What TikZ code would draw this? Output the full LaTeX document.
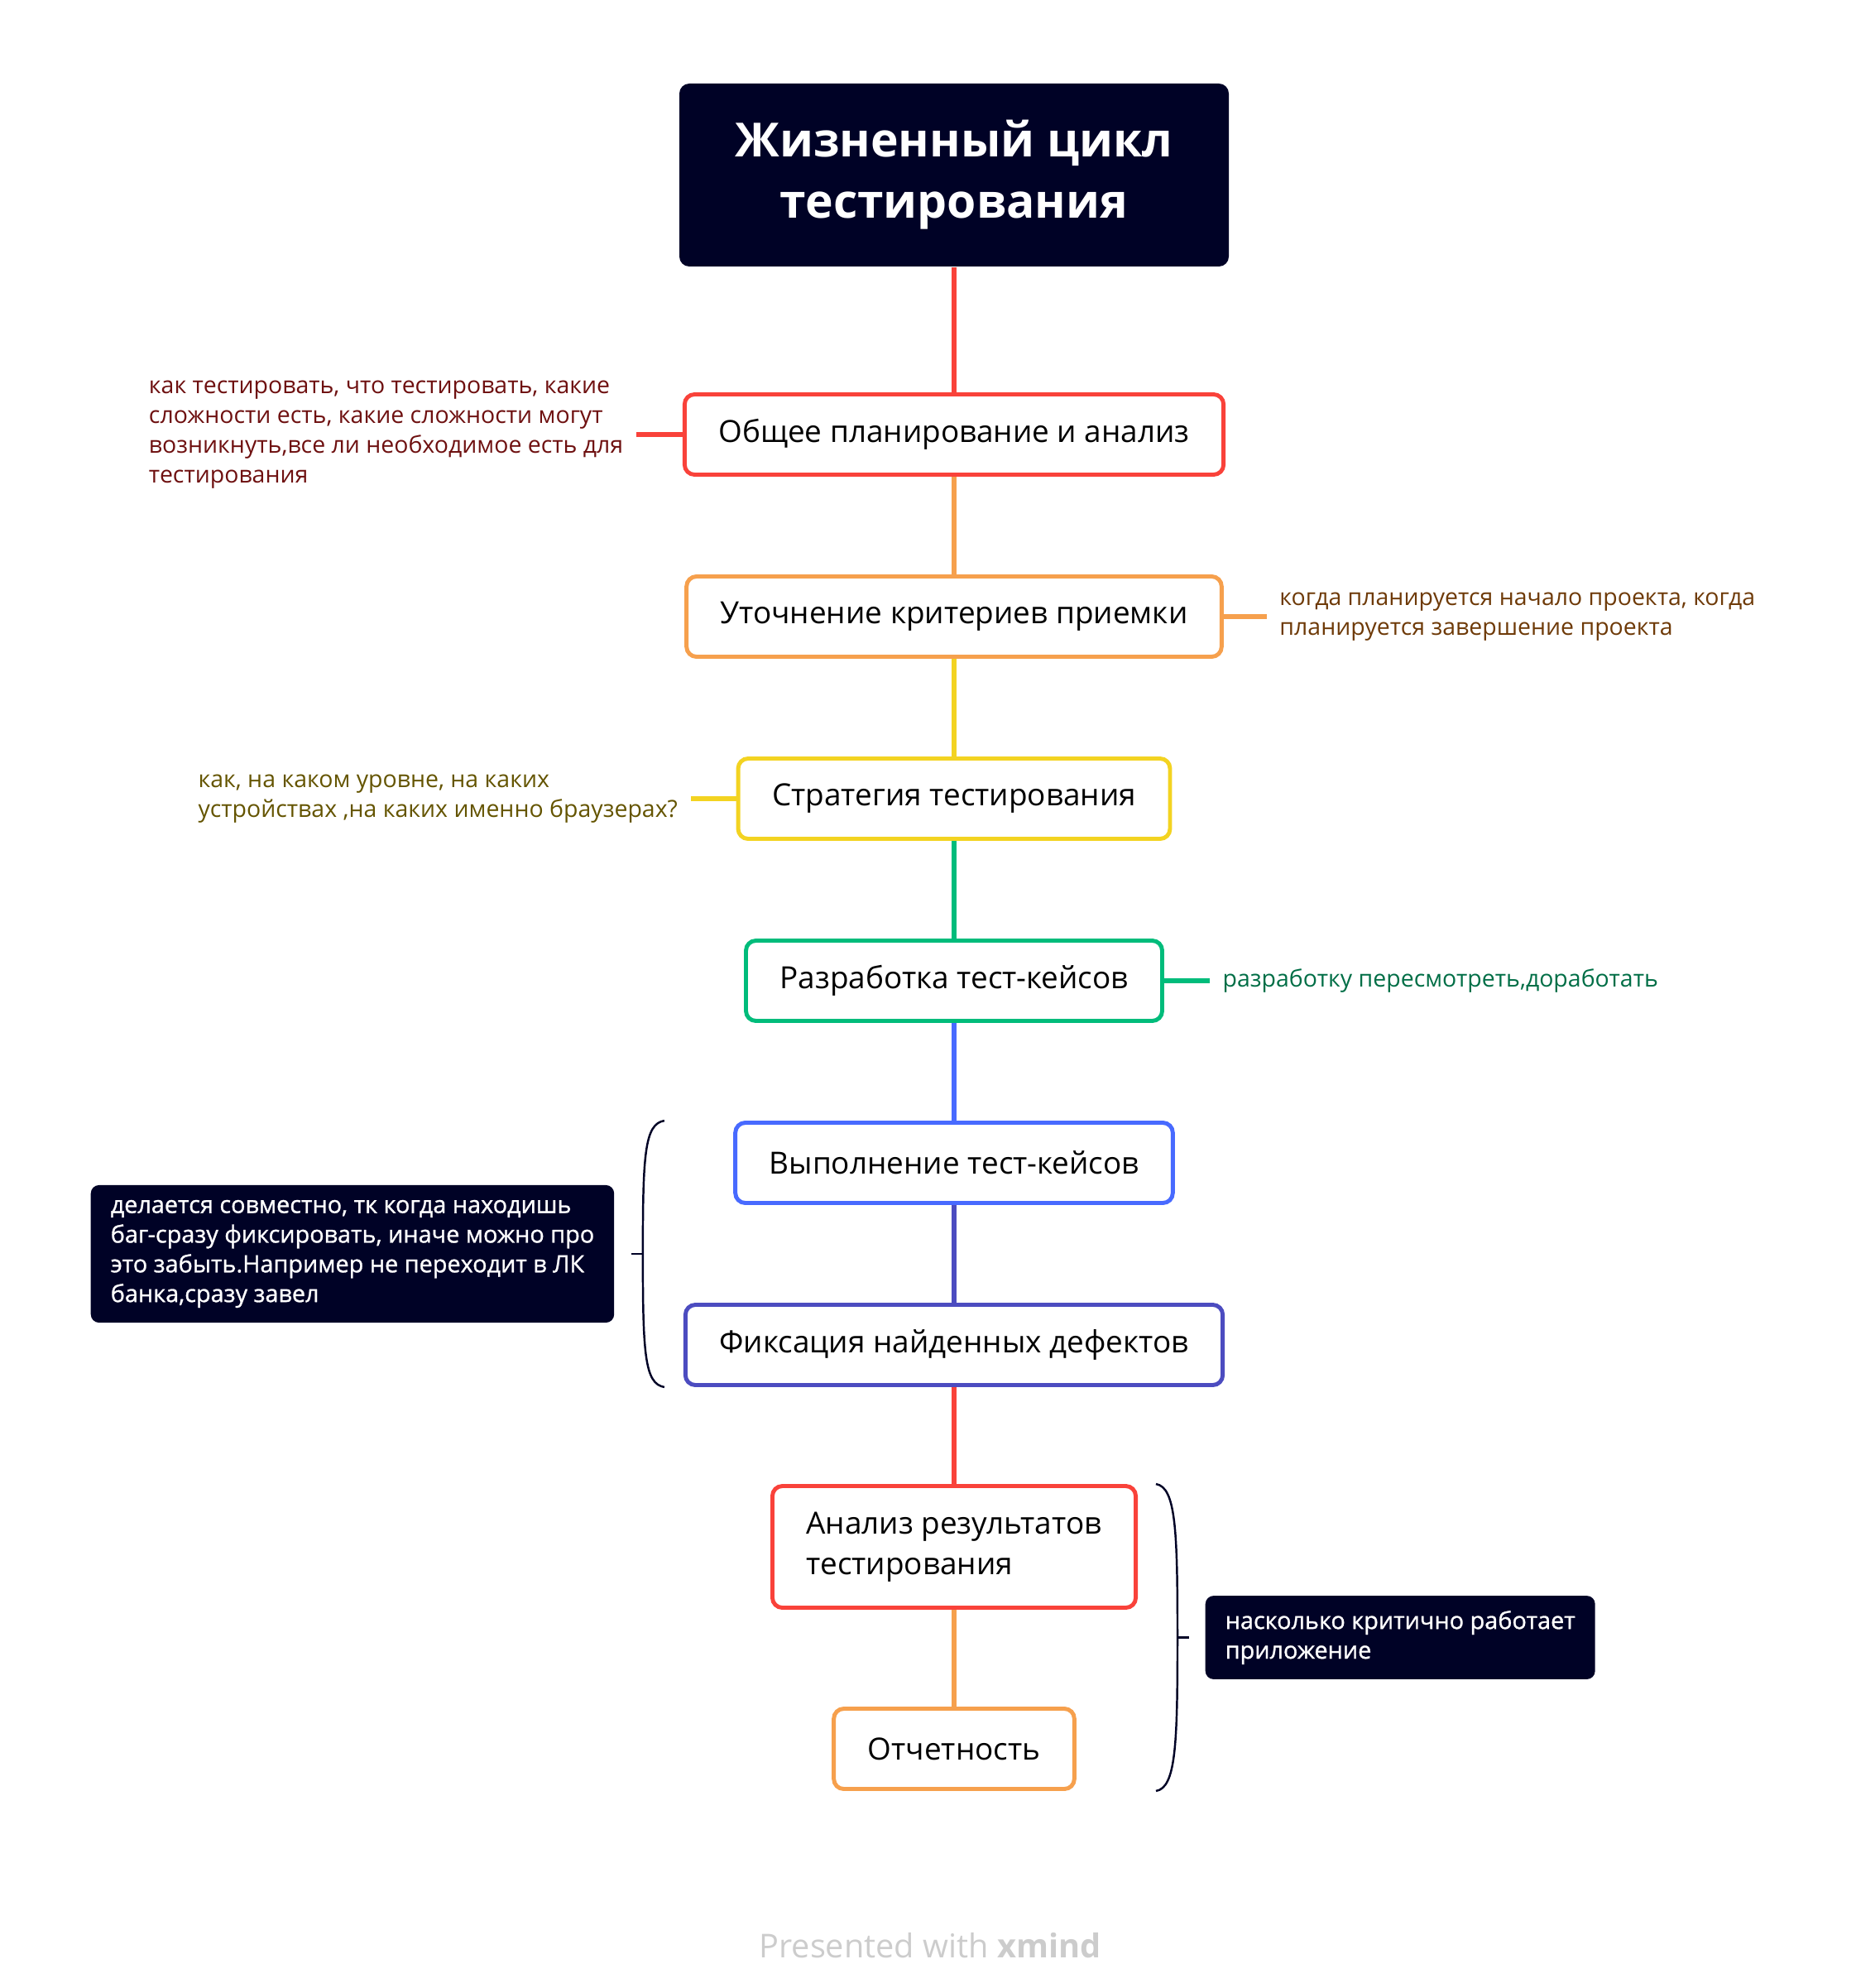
\documentclass[tikz,border=0pt]{standalone}
\usepackage{fontspec}
\setmainfont{Open Sans}
\newfontfamily\calloutfont{Open Sans}[FakeBold=1]
\usepackage{tikz}
\usetikzlibrary{positioning,calc}
\definecolor{navy}{RGB}{0,2,38}
\definecolor{cred}{RGB}{249,66,58}
\definecolor{corange}{RGB}{246,160,77}
\definecolor{cyellow}{RGB}{243,211,33}
\definecolor{cgreen}{RGB}{0,188,123}
\definecolor{cblue}{RGB}{72,106,255}
\definecolor{cindigo}{RGB}{76,76,192}
\definecolor{nred}{RGB}{110,16,16}
\definecolor{nbrown}{RGB}{110,58,8}
\definecolor{nolive}{RGB}{100,84,0}
\definecolor{ngreen}{RGB}{0,110,70}
\definecolor{credit}{RGB}{204,204,204}
\tikzset{
title/.style = {fill=navy, text=white, rectangle, rounded corners=0.12cm, align=center, minimum height=2.21cm, minimum width=6.64cm, font=\bfseries\fontsize{16.2}{21}\selectfont},
topic/.style = {draw, fill=white, rectangle, rounded corners=0.12cm, line width=1.4pt, minimum height=0.97cm, inner xsep=0.41cm, font=\fontsize{10.5}{14}\selectfont},
note/.style = {align=left, inner xsep=0.15cm, font=\fontsize{8.1}{10.2}\selectfont},
callout/.style = {fill=navy, text=white, rounded corners=0.1cm, align=left, inner xsep=0.24cm, inner ysep=0.18cm, font=\calloutfont\fontsize{8.2}{10.2}\selectfont},
link/.style = {line width=1.5pt},
brace/.style = {draw=navy, line width=0.7pt}
}

\begin{document}
\begin{tikzpicture}[node distance=2.2cm]
    \useasboundingbox (0,0) rectangle (22.42,-24.02);
    \node [title] (life) at (11.53,-2.115) {Жизненный цикл\\тестирования};
    \node [topic, draw=cred, below of=life, node distance=3.135cm] (plan) {Общее планирование и анализ};
    \node [topic, draw=corange, below of=plan] (accept) {Уточнение критериев приемки};
    \node [topic, draw=cyellow, below of=accept] (strat) {Стратегия тестирования};
    \node [topic, draw=cgreen, below of=strat] (design) {Разработка тест-кейсов};
    \node [topic, draw=cblue, below of=design] (run) {Выполнение тест-кейсов};
    \node [topic, draw=cindigo, below of=run] (fix) {Фиксация найденных дефектов};
    \node [topic, draw=cred, below of=fix, node distance=2.44cm, align=left, minimum height=1.47cm] (result) {Анализ результатов\\тестирования};
    \node [topic, draw=corange, below of=result, node distance=2.44cm] (report) {Отчетность};

    \draw [link, cred] (life) -- (plan);
    \draw [link, corange] (plan) -- (accept);
    \draw [link, cyellow] (accept) -- (strat);
    \draw [link, cgreen] (strat) -- (design);
    \draw [link, cblue] (design) -- (run);
    \draw [link, cindigo] (run) -- (fix);
    \draw [link, cred] (fix) -- (result);
    \draw [link, corange] (result) -- (report);

    % notes
    \node [note, text=nred, left=0.56cm of plan] (plannote) {как тестировать, что тестировать, какие\\сложности есть, какие сложности могут\\возникнуть,все ли необходимое есть для\\тестирования};
    \node [note, text=nbrown, right=0.52cm of accept] (acceptnote) {когда планируется начало проекта, когда\\планируется завершение проекта};
    \node [note, text=nolive, left=0.55cm of strat] (stratnote) {как, на каком уровне, на каких\\устройствах ,на каких именно браузерах?};
    \node [note, text=ngreen, right=0.55cm of design] (designnote) {разработку пересмотреть,доработать};
    \draw [link, cred] (plan) -- (plannote);
    \draw [link, corange] (accept) -- (acceptnote);
    \draw [link, cyellow] (strat) -- (stratnote);
    \draw [link, cgreen] (design) -- (designnote);

    % brackets
    \coordinate (lbtop) at ($(fix.west |- run.north)+(-0.23,0)$);
    \coordinate (lbbot) at ($(fix.south west)+(-0.23,0)$);
    \coordinate (lbmid) at ($(lbtop)!0.5!(lbbot)+(-0.26,0)$);
    \draw [brace] (lbtop) .. controls +(-0.24,-0.04) and +(0,1.2) .. (lbmid)
        .. controls +(0,-1.2) and +(-0.24,0.04) .. (lbbot);
    \node [callout, left=0.34cm of lbmid] (fixnote) {делается совместно, тк когда находишь\\баг-сразу фиксировать, иначе можно про\\это забыть.Например не переходит в ЛК\\банка,сразу завел};
    \draw [brace, shorten >=0.2cm] (lbmid) -- (fixnote);

    \coordinate (rbtop) at ($(result.north east)+(0.22,0)$);
    \coordinate (rbbot) at ($(result.east |- report.south)+(0.22,0)$);
    \coordinate (rbmid) at ($(rbtop)!0.5!(rbbot)+(0.26,0)$);
    \draw [brace] (rbtop) .. controls +(0.24,-0.04) and +(0,1.3) .. (rbmid)
        .. controls +(0,-1.3) and +(0.24,0.04) .. (rbbot);
    \node [callout, right=0.33cm of rbmid] (resultnote) {насколько критично работает\\приложение};
    \draw [brace, shorten >=0.19cm] (rbmid) -- (resultnote);

    \node [text=credit, font=\fontsize{11.3}{13}\selectfont] (credit) at (11.24,-23.51) {Presented with \textbf{xmind}};
\end{tikzpicture}
\end{document}
